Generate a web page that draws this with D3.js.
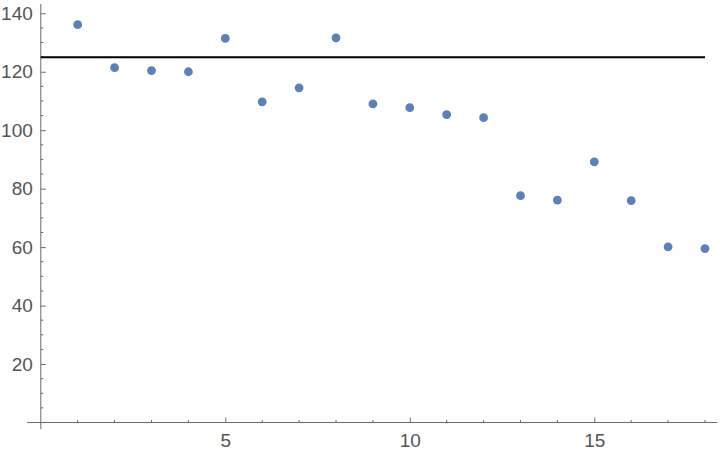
<!DOCTYPE html>
<html>
<head>
<meta charset="utf-8">
<script src="https://cdn.jsdelivr.net/npm/d3@7"></script>
<style>
  body { margin: 0; background: #fff; }
  svg { display: block; }
</style>
</head>
<body>
<div id="canvas"></div>
<script>
// data
var xValues = [1, 2, 3, 4, 5, 6, 7, 8, 9, 10, 11, 12, 13, 14, 15, 16, 17, 18];
var yValues = [136.1, 121.4, 120.4, 120.0, 131.4, 109.7, 114.5, 131.6, 109.0,
               107.7, 105.3, 104.3, 77.6, 76.1, 89.2, 75.9, 60.1, 59.5];
var refLine = 125;
var xTicks = [5, 10, 15];
var yTicks = [20, 40, 60, 80, 100, 120, 140];

var width = 720, height = 454;

var svg = d3.select("#canvas")
            .append("svg")
                .attr("width", width)
                .attr("height", height);

var xScale = d3.scaleLinear().domain([0, 18]).range([40.8, 705.0]);
var yScale = d3.scaleLinear().domain([0, 140]).range([422.5, 13.3]);

var axisColor = "#6b6b6b";
var labelColor = "#555";

// axis lines (slightly longer than data range, like the original)
svg.append("line")
    .attr("x1", xScale(-0.37)).attr("x2", xScale(18.33))
    .attr("y1", yScale(0)).attr("y2", yScale(0))
    .attr("stroke", axisColor).attr("stroke-width", 1);

svg.append("line")
    .attr("x1", xScale(0)).attr("x2", xScale(0))
    .attr("y1", yScale(143.2)).attr("y2", yScale(-2.3))
    .attr("stroke", axisColor).attr("stroke-width", 1);

// x axis: major ticks with labels, minor ticks every 1
var xAxis = d3.axisBottom(xScale)
            .tickValues(xTicks)
            .tickSizeInner(-5)
            .tickSizeOuter(0)
            .tickPadding(11);

var gx = svg.append("g")
    .attr("transform", "translate(0," + yScale(0) + ")")
    .call(xAxis);
gx.select(".domain").remove();
gx.selectAll("line").attr("stroke", axisColor);
gx.selectAll("text")
    .attr("fill", labelColor)
    .style("font-family", "'Liberation Sans', Arial, sans-serif")
    .style("font-size", "19px");

var xMinor = d3.range(1, 19).filter(function(d) { return d % 5 != 0; });
svg.selectAll(".xminor")
    .data(xMinor)
    .enter().append("line")
    .attr("class", "xminor")
    .attr("x1", function(d) { return xScale(d); })
    .attr("x2", function(d) { return xScale(d); })
    .attr("y1", yScale(0))
    .attr("y2", yScale(0) - 2.5)
    .attr("stroke", axisColor);

// y axis
var yAxis = d3.axisLeft(yScale)
            .tickValues(yTicks)
            .tickSizeInner(-5)
            .tickSizeOuter(0)
            .tickPadding(8);

var gy = svg.append("g")
    .attr("transform", "translate(" + xScale(0) + ",0)")
    .call(yAxis);
gy.select(".domain").remove();
gy.selectAll("line").attr("stroke", axisColor);
gy.selectAll("text")
    .attr("fill", labelColor)
    .style("font-family", "'Liberation Sans', Arial, sans-serif")
    .style("font-size", "19px");

var yMinor = d3.range(5, 141, 5).filter(function(d) { return d % 20 != 0; });
svg.selectAll(".yminor")
    .data(yMinor)
    .enter().append("line")
    .attr("class", "yminor")
    .attr("x1", xScale(0))
    .attr("x2", xScale(0) + 2.5)
    .attr("y1", function(d) { return yScale(d); })
    .attr("y2", function(d) { return yScale(d); })
    .attr("stroke", axisColor);

// reference line
svg.append("line")
    .attr("x1", xScale(0)).attr("x2", xScale(18))
    .attr("y1", yScale(refLine)).attr("y2", yScale(refLine))
    .attr("stroke", "#000")
    .attr("stroke-width", 2);

// points
svg.selectAll("circle")
    .data(yValues)
    .enter().append("circle")
    .attr("cx", function(d, i) { return xScale(xValues[i]); })
    .attr("cy", function(d) { return yScale(d); })
    .attr("r", 4.4)
    .style("fill", "#5e81b5");
</script>
</body>
</html>
